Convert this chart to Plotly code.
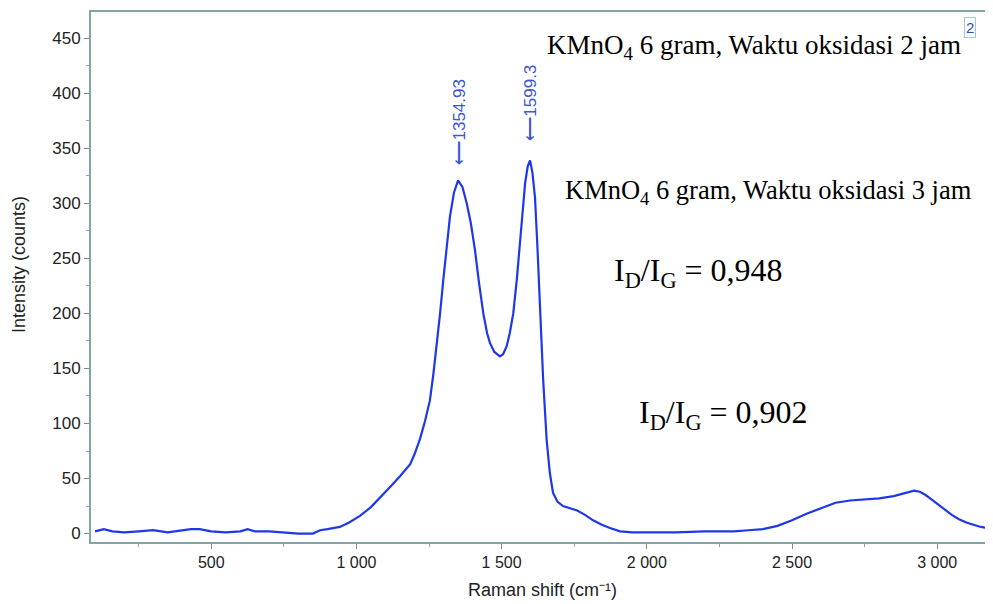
import plotly.graph_objects as go

# Raman spectrum
raman_shift = [100, 130, 160, 200, 250, 300, 350, 400, 430, 460, 500, 550, 600, 625, 650, 700, 750, 800,
               850, 875, 900, 943, 975, 1012, 1050, 1081, 1115, 1150, 1170, 1185, 1200, 1219, 1236, 1253,
               1265, 1276, 1288, 1299, 1310, 1322, 1336, 1350, 1365, 1380, 1394, 1408, 1422, 1437, 1450,
               1460, 1475, 1494, 1505, 1517, 1528, 1540, 1552, 1563, 1572, 1581, 1590, 1598, 1606, 1615,
               1623, 1632, 1643, 1655, 1666, 1677, 1692, 1711, 1735, 1760, 1787, 1815, 1845, 1873, 1908,
               1950, 2000, 2100, 2200, 2300, 2350, 2400, 2450, 2500, 2550, 2600, 2650, 2700, 2750, 2800,
               2850, 2880, 2900, 2920, 2940, 2960, 2980, 3000, 3025, 3050, 3075, 3100, 3125, 3150, 3175, 3195]
intensity = [2, 4, 2, 1, 2, 3, 1, 3, 4, 4, 2, 1, 2, 4, 2, 2, 1, 0,
             0, 3, 4, 6, 10, 16, 24, 33, 42, 52, 58, 63, 72, 86, 102, 121,
             145, 170, 200, 230, 260, 288, 310, 321, 315, 300, 282, 258, 228, 200, 182,
             173, 165, 161, 163, 170, 182, 200, 230, 267, 295, 319, 334, 339, 328, 305,
             262, 206, 140, 85, 55, 37, 29, 25, 23, 21, 17, 12, 8, 5, 2,
             1, 1, 1, 2, 2, 3, 4, 7, 12, 18, 23, 28, 30, 31, 32,
             34, 36, 38, 39, 38, 35, 31, 27, 22, 17, 13, 10, 8, 6, 5, 4]

peak_labels = ["1354.93", "1599.3"]
peak_positions = [1354.93, 1599.3]
peak_label_y = [374, 392]

x_ticks = [500, 1000, 1500, 2000, 2500, 3000]
y_ticks = [0, 50, 100, 150, 200, 250, 300, 350, 400, 450]

# page offset of the plot div (body margin) is 8 px
OFF = 8
W, H = 993 - OFF, 604 - OFF
PL, PT, PR, PB = 91, 12, 993, 542          # plot area in page pixels
L, T = PL - OFF, PT - OFF
R = W - (PR - OFF)
B = H - (PB - OFF)
pw, ph = PR - PL, PB - PT

def px(xp):
    return (xp - PL) / pw

def py(yp):
    return (PB - yp) / ph

axis_col = "rgb(130,165,165)"
line_col = "rgb(30,55,235)"
label_col = "rgb(60,85,215)"
sans = "Liberation Sans, Arial, sans-serif"
serif = "Liberation Serif, Times New Roman, serif"

fig = go.Figure()
fig.add_trace(go.Scatter(x=raman_shift, y=intensity, mode="lines",
                         line=dict(color=line_col, width=2.2), showlegend=False))

ann = []
for lab, xp, yp in zip(peak_labels, peak_positions, peak_label_y):
    ann.append(dict(x=xp, y=yp, xref="x", yref="y", text="\u27f5" + lab, showarrow=False,
                    textangle=-90, xanchor="center", yanchor="middle",
                    font=dict(family=sans, size=17, color=label_col)))

ann += [
    dict(x=px(545), y=py(47), xref="paper", yref="paper", xanchor="left", yanchor="middle",
         text="KMnO<sub>4</sub> 6 gram, Waktu oksidasi 2 jam", showarrow=False,
         font=dict(family=serif, size=27, color="black")),
    dict(x=px(563), y=py(192), xref="paper", yref="paper", xanchor="left", yanchor="middle",
         text="KMnO<sub>4</sub> 6 gram, Waktu oksidasi 3 jam", showarrow=False,
         font=dict(family=serif, size=26.5, color="black")),
    dict(x=px(612), y=py(272), xref="paper", yref="paper", xanchor="left", yanchor="middle",
         text="I<sub>D</sub>/I<sub>G</sub> = 0,948", showarrow=False,
         font=dict(family=serif, size=32, color="black")),
    dict(x=px(637), y=py(415), xref="paper", yref="paper", xanchor="left", yanchor="middle",
         text="I<sub>D</sub>/I<sub>G</sub> = 0,902", showarrow=False,
         font=dict(family=serif, size=32, color="black")),
    dict(x=px(970), y=py(28), xref="paper", yref="paper", xanchor="center", yanchor="middle",
         text="2", showarrow=False, bordercolor="rgb(160,200,235)", borderwidth=1, borderpad=1,
         font=dict(family=sans, size=15, color="rgb(40,80,200)")),
    # axis titles
    dict(x=px(19), y=py(265), xref="paper", yref="paper", xanchor="center", yanchor="middle",
         text="Intensity (counts)", showarrow=False, textangle=-90,
         font=dict(family=sans, size=18, color="#222")),
    dict(x=px(542), y=py(590), xref="paper", yref="paper", xanchor="center", yanchor="middle",
         text="Raman shift (cm\u207b\u00b9)", showarrow=False,
         font=dict(family=sans, size=18, color="#222")),
]

fig.update_layout(
    width=W, height=H,
    margin=dict(l=L, r=R, t=T, b=B, autoexpand=False),
    paper_bgcolor="white", plot_bgcolor="white",
    separators=". ",
    annotations=ann,
    font=dict(family=sans, size=16, color="#222"),
)
fig.update_xaxes(range=[86, 3192], tickvals=x_ticks, separatethousands=True,
                 showline=True, linecolor=axis_col, linewidth=2, mirror=True,
                 ticks="outside", ticklen=5, tickcolor="rgb(120,140,140)",
                 minor=dict(dtick=250, ticks="outside", ticklen=3, tickcolor="rgb(150,165,165)"),
                 showgrid=False, zeroline=False,
                 tickfont=dict(family=sans, size=16, color="#222"))
fig.update_yaxes(range=[-7.7, 474], tickvals=y_ticks,
                 showline=True, linecolor=axis_col, linewidth=2,
                 ticks="outside", ticklen=5, tickcolor="rgb(120,140,140)",
                 minor=dict(dtick=25, ticks="outside", ticklen=3, tickcolor="rgb(150,165,165)"),
                 showgrid=False, zeroline=False,
                 tickfont=dict(family=sans, size=17, color="#222"))

fig.write_html("out.html")
